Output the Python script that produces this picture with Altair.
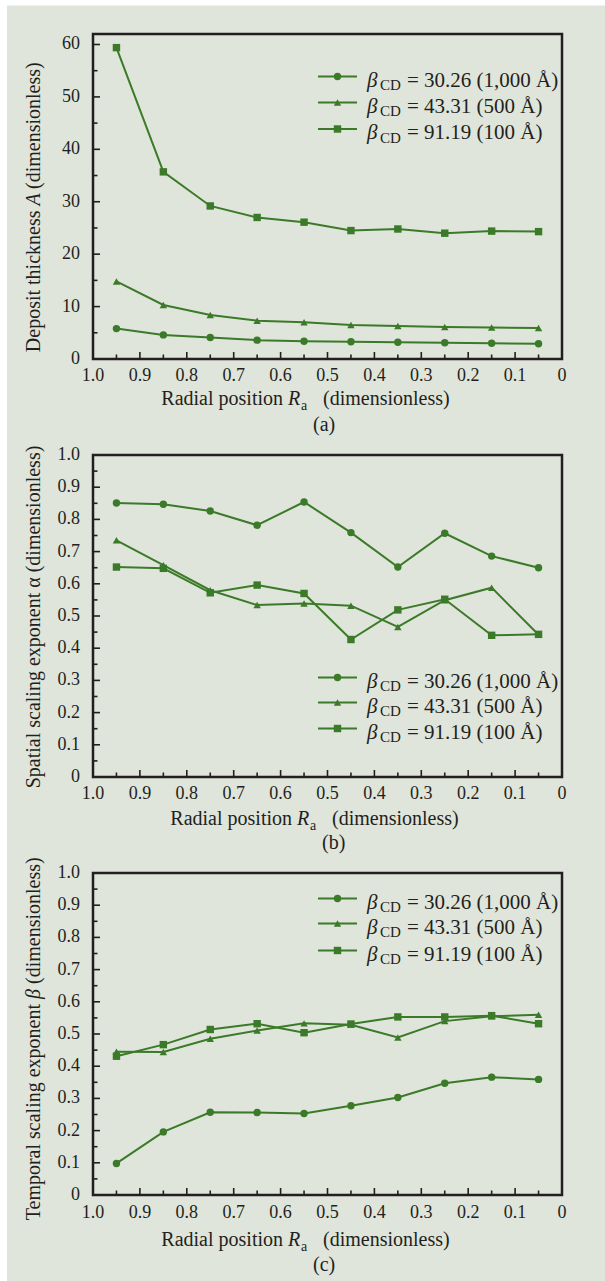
import altair as alt
import pandas as pd
import numpy as np

FONT = "Liberation Serif"
GREEN = "#3b7a29"
INK = "#231f20"
BG = "#dfe5da"

# ---------------- data ----------------
R_pos = [0.95, 0.85, 0.75, 0.65, 0.55, 0.45, 0.35, 0.25, 0.15, 0.05]
series_names = ["30.26", "43.31", "91.19"]
legend_rest = ["= 30.26 (1,000 Å)", "= 43.31 (500 Å)", "= 91.19 (100 Å)"]
shapes = ["circle", "triangle-up", "square"]

A_30 = [5.8, 4.6, 4.1, 3.6, 3.4, 3.3, 3.2, 3.1, 3.0, 2.9]
A_43 = [14.8, 10.3, 8.4, 7.3, 7.0, 6.5, 6.3, 6.1, 6.0, 5.9]
A_91 = [59.4, 35.7, 29.2, 27.0, 26.1, 24.5, 24.8, 24.0, 24.4, 24.3]

alpha_30 = [0.851, 0.847, 0.826, 0.782, 0.854, 0.759, 0.652, 0.757, 0.686, 0.650]
alpha_43 = [0.735, 0.658, 0.580, 0.534, 0.539, 0.532, 0.466, 0.549, 0.588, 0.442]
alpha_91 = [0.652, 0.648, 0.572, 0.596, 0.570, 0.427, 0.519, 0.552, 0.440, 0.443]

beta_30 = [0.098, 0.196, 0.257, 0.256, 0.253, 0.277, 0.303, 0.347, 0.366, 0.359]
beta_43 = [0.445, 0.444, 0.485, 0.511, 0.533, 0.529, 0.489, 0.540, 0.555, 0.560]
beta_91 = [0.431, 0.467, 0.514, 0.532, 0.504, 0.531, 0.553, 0.553, 0.557, 0.532]

unit_ticks = [round(i / 10, 2) for i in range(11)]
unit_labels = ["0", "0.1", "0.2", "0.3", "0.4", "0.5", "0.6", "0.7", "0.8", "0.9", "1.0"]
unit_minor = [round(0.05 + i / 10, 2) for i in range(10)]
A_ticks = [0, 10, 20, 30, 40, 50, 60]
A_labels = ["0", "10", "20", "30", "40", "50", "60"]
A_minor = [5, 15, 25, 35, 45, 55]

ONE = pd.DataFrame({"k": [0]})
W = 469
SPACING = 96


def long_df(lists):
    rows = []
    for name, vals in zip(series_names, lists):
        for r, v in zip(R_pos, vals):
            rows.append({"R": r, "val": v, "series": name})
    return pd.DataFrame(rows)


def txt(s, x, y, size=20, style="normal", align="left", baseline="alphabetic", angle=0):
    return alt.Chart(ONE).mark_text(
        text=s, font=FONT, fontSize=size, fontStyle=style, align=align,
        baseline=baseline, angle=angle, color=INK
    ).encode(x=alt.value(x), y=alt.value(y))


def panel(lists, ydom, ymajor, ylabels, yminor, H, rect_top, rect_bottom,
          legend_rows, ytitle_layers, Rx, title_off, sub_text, sub_x, sub_off, xlab_off):
    df = long_df(lists)
    xscale = alt.Scale(domain=[0, 1], reverse=True, nice=False, zero=False)
    yscale = alt.Scale(domain=ydom, nice=False, zero=False)

    layers = []
    layers.append(alt.Chart(ONE).mark_rect(color=BG).encode(
        x=alt.value(-86), x2=alt.value(512), y=alt.value(rect_top), y2=alt.value(rect_bottom)))

    lines = alt.Chart(df).mark_line(color=GREEN, strokeWidth=2).encode(
        x=alt.X("R:Q", scale=xscale, axis=None),
        y=alt.Y("val:Q", scale=yscale, axis=None),
        detail="series:N")
    layers.append(lines)

    # inward ticks
    xmaj = pd.DataFrame({"t": unit_ticks[1:-1]})
    xmin = pd.DataFrame({"t": unit_minor})
    layers.append(alt.Chart(xmaj).mark_rule(color=INK, strokeWidth=1.6).encode(
        x=alt.X("t:Q", scale=xscale, axis=None), y=alt.value(H), y2=alt.value(H - 7)))
    layers.append(alt.Chart(xmin).mark_rule(color=INK, strokeWidth=1.6).encode(
        x=alt.X("t:Q", scale=xscale, axis=None), y=alt.value(H), y2=alt.value(H - 4.5)))
    ymaj = pd.DataFrame({"t": ymajor[1:]})
    ymin = pd.DataFrame({"t": yminor})
    layers.append(alt.Chart(ymaj).mark_rule(color=INK, strokeWidth=1.6).encode(
        y=alt.Y("t:Q", scale=yscale, axis=None), x=alt.value(0), x2=alt.value(7)))
    layers.append(alt.Chart(ymin).mark_rule(color=INK, strokeWidth=1.6).encode(
        y=alt.Y("t:Q", scale=yscale, axis=None), x=alt.value(0), x2=alt.value(4.5)))

    # tick labels (drawn through the scales)
    xl = pd.DataFrame({"t": unit_ticks, "lab": unit_labels})
    layers.append(alt.Chart(xl).mark_text(font=FONT, fontSize=18, color=INK, align="center",
                                          baseline="middle").encode(
        x=alt.X("t:Q", scale=xscale, axis=None), y=alt.value(H + xlab_off), text="lab:N"))
    yl = pd.DataFrame({"t": ymajor, "lab": ylabels})
    layers.append(alt.Chart(yl).mark_text(font=FONT, fontSize=18, color=INK, align="right",
                                          baseline="middle").encode(
        y=alt.Y("t:Q", scale=yscale, axis=None), x=alt.value(-13), text="lab:N"))

    points = alt.Chart(df).mark_point(filled=True, opacity=1, color=GREEN, size=55).encode(
        x=alt.X("R:Q", scale=xscale, axis=None),
        y=alt.Y("val:Q", scale=yscale, axis=None),
        shape=alt.Shape("series:N", scale=alt.Scale(domain=series_names, range=shapes), legend=None))
    layers.append(points)

    # frame
    layers.append(alt.Chart(ONE).mark_rect(fillOpacity=0, stroke=INK, strokeWidth=2.5).encode(
        x=alt.value(0), x2=alt.value(W), y=alt.value(0), y2=alt.value(H)))

    # legend
    for i, ry in enumerate(legend_rows):
        layers.append(alt.Chart(ONE).mark_rule(color=GREEN, strokeWidth=2).encode(
            x=alt.value(225), x2=alt.value(264), y=alt.value(ry)))
        layers.append(alt.Chart(ONE).mark_point(shape=shapes[i], filled=True, opacity=1,
                                                color=GREEN, size=55).encode(
            x=alt.value(244.5), y=alt.value(ry)))
        layers.append(txt("β", 274, ry + 10, size=21, style="italic"))
        layers.append(txt("CD", 287, ry + 13.5, size=15))
        layers.append(txt(legend_rest[i], 314, ry + 10, size=21))

    # y title
    layers.extend(ytitle_layers)

    # x title
    yb = H + title_off
    layers.append(txt("Radial position", Rx - 5, yb, align="right"))
    layers.append(txt("R", Rx, yb, style="italic"))
    layers.append(txt("a", Rx + 13, yb + 5, size=14))
    layers.append(txt("(dimensionless)", Rx + 35, yb))

    # sub label
    layers.append(txt(sub_text, sub_x, H + sub_off, baseline="middle"))

    return alt.layer(*layers).properties(width=W, height=H)


Ha, Hb, Hc = 325, 322, 322

ya_title = [
    txt("Deposit thickness", -59, 176.5, align="right", baseline="middle", angle=270),
    txt("A", -59, 171.5, style="italic", align="left", baseline="middle", angle=270),
    txt("(dimensionless)", -59, 155, align="left", baseline="middle", angle=270),
]
yb_title = [
    txt("Spatial scaling exponent α  (dimensionless)", -59, 162, align="center",
        baseline="middle", angle=270),
]
yc_title = [
    txt("Temporal scaling exponent", -59, 131, align="right", baseline="middle", angle=270),
    txt("β", -59, 126, style="italic", align="left", baseline="middle", angle=270),
    txt("(dimensionless)", -59, 111, align="left", baseline="middle", angle=270),
]

pa = panel([A_30, A_43, A_91], [0, 62], A_ticks, A_labels, A_minor, Ha, -28.5, Ha + SPACING,
           [42.5, 68.5, 95], ya_title, 195, 45.5, "(a)", 220, 65.5, 16.5)
pb = panel([alpha_30, alpha_43, alpha_91], [0, 1], unit_ticks, unit_labels, unit_minor, Hb,
           0, Hb + SPACING, [222.5, 247.5, 273.5], yb_title, 204, 47.5, "(b)", 229, 66, 17)
pc = panel([beta_30, beta_43, beta_91], [0, 1], unit_ticks, unit_labels, unit_minor, Hc,
           0, 408.5, [25.5, 50.5, 77.5], yc_title, 195, 50.5, "(c)", 220, 70, 18)

chart = alt.vconcat(pa, pb, pc, spacing=SPACING, bounds="flush").properties(
    padding={"left": 7, "top": 5, "right": 0, "bottom": 0},
    background="#ffffff",
).configure_view(stroke=None)

chart.save("out.html", embed_options={"renderer": "svg", "actions": False})
